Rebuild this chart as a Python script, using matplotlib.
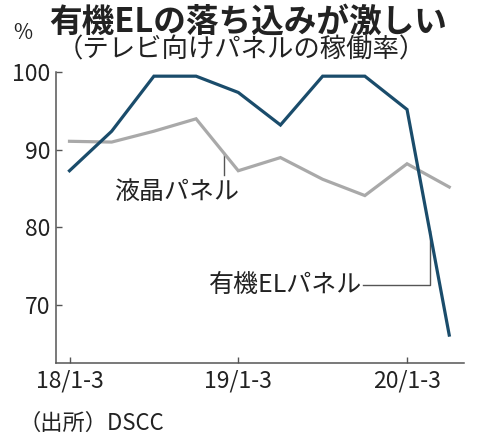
import matplotlib
matplotlib.use("Agg")
import matplotlib.pyplot as plt
import numpy as np

plt.rcParams['font.family'] = ['Noto Sans CJK JP', 'DejaVu Sans']

quarters = ["18/1-3", "18/4-6", "18/7-9", "18/10-12", "19/1-3", "19/4-6",
            "19/7-9", "19/10-12", "20/1-3", "20/4-6"]
oled = [87.3, 92.4, 99.5, 99.5, 97.4, 93.2, 99.5, 99.5, 95.2, 66.1]
lcd = [91.1, 91.0, 92.4, 94.0, 87.3, 89.0, 86.2, 84.1, 88.2, 85.2]
tick_labels = ["18/1-3", "19/1-3", "20/1-3"]
tick_idx = [0, 4, 8]
yticks = [70, 80, 90, 100]

title = "有機ELの落ち込みが激しい"
subtitle = "（テレビ向けパネルの稼働率）"
source = "（出所）DSCC"

x = np.arange(len(quarters))

fig = plt.figure(figsize=(4.8, 4.47), dpi=100)
ax = fig.add_axes([56/480, 1-363/447, (464-56)/480, (363-72.3)/447])

ax.plot(x, lcd, color="#a9a9a9", lw=2.3, solid_joinstyle="miter", zorder=2)
ax.plot(x, oled, color="#1a4c6b", lw=2.3, solid_joinstyle="miter", zorder=3)

ax.set_xlim(-0.32, 9.35)
ax.set_ylim(62.5, 100)
ax.set_yticks(yticks)
ax.set_xticks(tick_idx)
ax.set_xticklabels(tick_labels)
for s in ["top", "right"]:
    ax.spines[s].set_visible(False)
for s in ["left", "bottom"]:
    ax.spines[s].set_color("#555555")
    ax.spines[s].set_linewidth(1.1)
ax.tick_params(axis="both", direction="in", length=4, width=1.0, color="#555555",
               labelsize=16.5, labelcolor="#222222")
ax.tick_params(axis="x", pad=5)
ax.tick_params(axis="y", pad=4)

# leader for LCD
lx = 3.66
ly = np.interp(lx, x, lcd)
ax.plot([lx, lx], [ly, 86.8], color="#555555", lw=1.0, zorder=1)
ax.text(2.54, 84.6, "液晶パネル", fontsize=18, ha="center", va="center", color="#222222")

# leader for OLED
ox = 8.54
oy = np.interp(ox, x, oled)
ax.plot([6.95, ox, ox], [72.55, 72.55, oy], color="#555555", lw=1.0, zorder=1)
ax.text(6.93, 72.55, "有機ELパネル", fontsize=18, ha="right", va="center", color="#222222")

fig.text(248/480, 1-22/447, title, fontsize=23.5, fontweight="bold", ha="center", va="center", color="#222222")
fig.text(241/480, 1-50/447, subtitle, fontsize=19, ha="center", va="center", color="#222222")
fig.text(23/480, 1-33/447, "%", fontsize=15, ha="center", va="center", color="#222222")
fig.text(18/480, 1-423/447, source, fontsize=16, ha="left", va="center", color="#222222")

fig.savefig("out.png", dpi=100)
